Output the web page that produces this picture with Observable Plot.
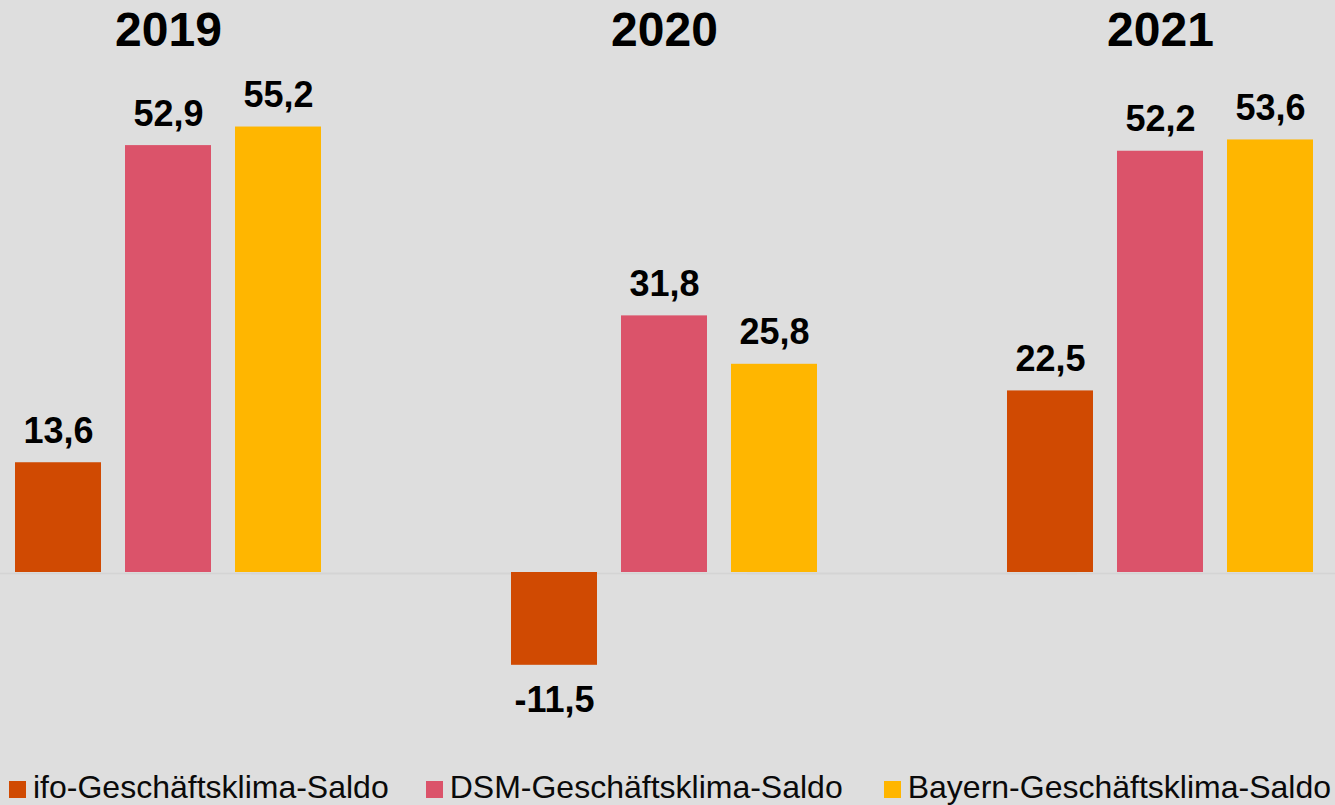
<!DOCTYPE html>
<html>
<head>
<meta charset="utf-8">
<script src="https://cdn.jsdelivr.net/npm/d3@7"></script>
<script src="https://cdn.jsdelivr.net/npm/@observablehq/plot@0.6"></script>
<style>
  html, body { margin: 0; padding: 0; background: #dedede; }
  body { width: 1335px; height: 805px; overflow: hidden; font-family: "Liberation Sans", Arial, sans-serif; }
  #chart svg { display: block; }
  #legend { display: flex; align-items: flex-start; padding-top: 11px; padding-left: 9px; height: 34px; }
  .item { display: flex; align-items: flex-start; }
  .item:nth-child(1) { margin-right: 37px; }
  .item:nth-child(2) { margin-right: 41px; }
  .swatch { width: 17px; height: 17px; margin-top: 10px; margin-right: 7px; }
  .label { font-size: 32px; line-height: 32px; color: #0a0a0a; white-space: nowrap; }
</style>
</head>
<body>
<div id="chart"></div>
<div id="legend"></div>
<script>
const years = ["2019", "2020", "2021"];
const series = ["ifo-Geschäftsklima-Saldo", "DSM-Geschäftsklima-Saldo", "Bayern-Geschäftsklima-Saldo"];
const ifoValues = [13.6, -11.5, 22.5];
const dsmValues = [52.9, 31.8, 52.2];
const bayernValues = [55.2, 25.8, 53.6];
const colors = ["#d04a02", "#db536a", "#ffb600"];

const valuesBySeries = [ifoValues, dsmValues, bayernValues];
const data = [];
years.forEach((year, i) => {
  series.forEach((s, j) => {
    data.push({ year, series: s, value: valuesBySeries[j][i] });
  });
});

const fmt = v => v.toLocaleString("de-DE", { minimumFractionDigits: 1, maximumFractionDigits: 1 });

const k = 8.07;   // pixels per unit
const zeroY = 572;

const chart = Plot.plot({
  width: 1335,
  height: 760,
  marginLeft: 15,
  marginRight: 22,
  marginTop: 0,
  marginBottom: 0,
  style: { background: "transparent", fontFamily: "'Liberation Sans', Arial, sans-serif", overflow: "visible" },
  fx: { domain: years, paddingInner: 190 / 496, paddingOuter: 0, round: false, axis: null, label: null },
  x: { domain: series, paddingInner: 24 / 110, paddingOuter: 0, round: false, axis: null, label: null },
  y: { domain: [-20, 70], range: [zeroY + 20 * k, zeroY - 70 * k], axis: null, label: null },
  color: { domain: series, range: colors },
  marks: [
    Plot.ruleY([0], { stroke: "#d4d4d4", strokeWidth: 1.5, dy: 1, insetLeft: -260, insetRight: -260 }),
    Plot.barY(data, { fx: "year", x: "series", y: "value", fill: "series" }),
    Plot.text(data.filter(d => d.value >= 0), {
      fx: "year", x: "series", y: "value", text: d => fmt(d.value),
      lineAnchor: "bottom", dy: -20, fontSize: 36, fontWeight: "bold", fill: "#000"
    }),
    Plot.text(data.filter(d => d.value < 0), {
      fx: "year", x: "series", y: "value", text: d => fmt(d.value),
      lineAnchor: "top", dy: 21, fontSize: 36, fontWeight: "bold", fill: "#000"
    }),
    Plot.text(years, {
      fx: d => d, text: d => d, frameAnchor: "top", lineAnchor: "top", dy: 11,
      fontSize: 48, fontWeight: "bold", fill: "#000"
    })
  ]
});
document.getElementById("chart").appendChild(chart);

const legend = document.getElementById("legend");
series.forEach((s, j) => {
  const item = document.createElement("div");
  item.className = "item";
  const sw = document.createElement("div");
  sw.className = "swatch";
  sw.style.background = colors[j];
  const lab = document.createElement("div");
  lab.className = "label";
  lab.textContent = s;
  item.appendChild(sw);
  item.appendChild(lab);
  legend.appendChild(item);
});
</script>
</body>
</html>
